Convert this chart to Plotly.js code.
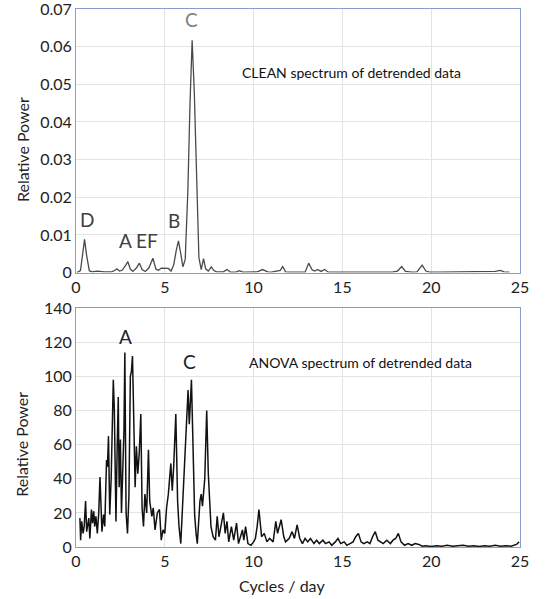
<!DOCTYPE html>
<html>
<head>
<meta charset="utf-8">
<script src="https://cdn.plot.ly/plotly-3.0.1.min.js"></script>
<style>html,body{margin:0;padding:0;background:#fff;}#chart{width:547px;height:599px;}</style>
</head>
<body>
<div id="chart"></div>
<script>
// CLEAN spectrum (top panel)
const cleanX = [0.05,0.25,0.35,0.48,0.6,0.75,0.9,1.2,1.6,2.0,2.2,2.3,2.45,2.6,2.8,2.92,3.05,3.2,3.4,3.57,3.72,3.9,4.1,4.33,4.5,4.65,4.8,5.0,5.2,5.35,5.5,5.65,5.77,5.9,6.02,6.15,6.3,6.42,6.54,6.66,6.8,6.92,7.05,7.18,7.3,7.45,7.62,7.75,7.9,8.1,8.3,8.5,8.7,9.0,9.2,9.4,9.8,10.2,10.5,10.8,11.0,11.3,11.5,11.64,11.8,12.1,12.6,12.9,13.1,13.3,13.45,13.6,13.8,14.0,14.2,14.6,15.2,15.8,16.0,16.2,17.0,17.8,18.1,18.34,18.55,18.9,19.2,19.49,19.7,19.9,20.5,21.3,21.5,21.7,22.5,23.2,23.6,23.9,24.1,24.4];
const cleanY = [0,0.0005,0.004,0.0088,0.0045,0.0005,0.0002,0.0004,0.0002,0.0002,0.0006,0.001,0.0004,0.0006,0.002,0.0029,0.001,0.0003,0.0012,0.0025,0.0008,0.0003,0.0012,0.0038,0.0009,0.0006,0.0012,0.0012,0.0011,0.0004,0.002,0.006,0.0084,0.005,0.0015,0.0035,0.022,0.045,0.0617,0.048,0.02,0.004,0.0008,0.0037,0.001,0.0004,0.0015,0.0006,0.0002,0.0002,0.0002,0.0008,0.0001,0.0001,0.0005,0.0001,0.0001,0.0002,0.0008,0.0002,0.0001,0.0004,0.0006,0.0016,0.0002,0.0001,0.0002,0.0001,0.0025,0.0007,0.0004,0.0008,0.0003,0.0008,0.0001,0.0001,0.0001,0.0001,0.0003,0.0001,0.0001,0.0001,0.0004,0.0016,0.0003,0.0001,0.0002,0.002,0.0004,0.0001,0.0001,0.0001,0.0003,0.0001,0.0001,0.0001,0.0003,0.0006,0.0002,0.0001];

// ANOVA spectrum (bottom panel)
const anovaX = [0.22,0.26,0.32,0.4,0.46,0.54,0.6,0.66,0.72,0.78,0.87,0.93,1.0,1.05,1.12,1.2,1.28,1.35,1.4,1.46,1.55,1.62,1.72,1.77,1.83,1.9,1.98,2.06,2.1,2.16,2.25,2.32,2.38,2.43,2.5,2.56,2.62,2.7,2.75,2.82,2.9,2.98,3.06,3.12,3.18,3.24,3.33,3.4,3.48,3.56,3.65,3.72,3.8,3.88,3.98,4.08,4.15,4.27,4.35,4.45,4.58,4.7,4.8,4.9,5.0,5.1,5.2,5.34,5.42,5.5,5.62,5.72,5.8,5.9,5.97,6.05,6.18,6.31,6.38,6.44,6.5,6.58,6.68,6.76,6.83,6.98,7.05,7.12,7.25,7.36,7.45,7.6,7.72,7.85,7.95,8.05,8.15,8.3,8.4,8.5,8.6,8.75,8.88,9.04,9.15,9.25,9.37,9.45,9.55,9.68,9.85,10.0,10.1,10.2,10.3,10.45,10.6,10.75,10.9,11.1,11.25,11.35,11.45,11.55,11.7,11.8,12.0,12.17,12.3,12.45,12.6,12.75,12.9,13.05,13.2,13.4,13.55,13.7,13.9,14.05,14.25,14.4,14.6,14.75,14.9,15.1,15.25,15.45,15.6,15.75,15.9,16.05,16.2,16.4,16.55,16.7,16.85,17.0,17.15,17.3,17.5,17.7,17.85,18.0,18.15,18.3,18.5,18.7,18.9,19.1,19.3,19.5,19.7,20.0,20.3,20.6,20.9,21.2,21.5,21.8,22.1,22.4,22.7,23.0,23.3,23.6,23.9,24.2,24.5,24.8,24.95];
const anovaY = [17,4,15,8,12,27,9,14,17,5,22,14,21,12,18,8,20,41,20,9,19,12,51,47,65,19,40,94,98,80,15,59,88,35,63,20,40,68,114,20,8,30,100,103,112,80,35,59,43,55,78,23,12,31,20,57,27,18,23,10,20,22,4,10,8,23,31,49,33,47,78,27,12,2,16,39,63,92,72,88,98,63,19,8,2,27,31,24,40,80,43,12,6,4,18,6,12,20,8,15,3,12,4,14,2,6,10,4,12,2,1,3,5,12,22,6,8,3,5,3,15,8,12,16,6,3,5,9,5,13,5,2,5,3,5,2,4,2,4,2,3,1,3,5,2,3,1,2,3,6,8,3,2,3,2,6,9,4,3,2,4,2,4,5,8,3,1,2,1,2,1.5,0.5,0.8,0.3,0.8,0.5,1,0.5,0.8,1,0.5,0.8,0.3,0.8,0.5,1,0.5,0.8,0.5,1.5,3];

const xTicks = [0,5,10,15,20,25];
const cleanTicks = [0,0.01,0.02,0.03,0.04,0.05,0.06,0.07];
const cleanTickText = ['0','0.01','0.02','0.03','0.04','0.05','0.06','0.07'];
const anovaTicks = [0,20,40,60,80,100,120,140];

const FONT = 'Lato, "Open Sans", sans-serif';
const borderColor = '#8b9ecb';
const gridColor = '#e3e3e3';

const traces = [
  {x: cleanX, y: cleanY, xaxis: 'x', yaxis: 'y', type: 'scatter', mode: 'lines',
   line: {color: '#4a4a4a', width: 1.3}, hoverinfo: 'skip'},
  {x: anovaX, y: anovaY, xaxis: 'x2', yaxis: 'y2', type: 'scatter', mode: 'lines',
   line: {color: '#111', width: 1.5}, hoverinfo: 'skip'}
];

const axX = {range: [0, 25], tickvals: xTicks, showgrid: true, gridcolor: gridColor, gridwidth: 1,
  showline: true, linecolor: borderColor, linewidth: 1, mirror: true, zeroline: false,
  ticks: '', ticklabeloverflow: 'allow', tickfont: {family: FONT, size: 16, color: '#222'}, fixedrange: true};

const layout = {
  width: 547, height: 599,
  margin: {l: 76, r: 27, t: 9, b: 52},
  paper_bgcolor: '#fff', plot_bgcolor: '#fff',
  showlegend: false,
  font: {family: FONT, color: '#222'},
  xaxis: Object.assign({}, axX, {anchor: 'y', domain: [0, 1]}),
  xaxis2: Object.assign({}, axX, {anchor: 'y2', domain: [0, 1]}),
  yaxis: {domain: [0.5101, 1], anchor: 'x', range: [0, 0.07], tickvals: cleanTicks,
    ticktext: cleanTickText, ticklabeloverflow: 'allow',
    showgrid: true, gridcolor: gridColor, showline: true, linecolor: borderColor, mirror: true,
    zeroline: false, ticks: '', tickfont: {family: FONT, size: 16, color: '#222'}, fixedrange: true},
  yaxis2: {domain: [0, 0.4438], anchor: 'x2', range: [0, 140], tickvals: anovaTicks,
    ticklabeloverflow: 'allow',
    showgrid: true, gridcolor: gridColor, showline: true, linecolor: borderColor, mirror: true,
    zeroline: false, ticks: '', tickfont: {family: FONT, size: 16, color: '#222'}, fixedrange: true},
  annotations: [
    {xref: 'paper', yref: 'paper', x: -0.1216, y: 0.7378, xanchor: 'center', yanchor: 'middle',
     text: 'Relative Power', textangle: -90,
     showarrow: false, font: {family: FONT, size: 16, color: '#222'}},
    {xref: 'paper', yref: 'paper', x: -0.1216, y: 0.19, xanchor: 'center', yanchor: 'middle',
     text: 'Relative Power', textangle: -90,
     showarrow: false, font: {family: FONT, size: 16, color: '#222'}},
    {xref: 'paper', yref: 'paper', x: 0.465, y: -0.0715, xanchor: 'center', yanchor: 'middle',
     text: 'Cycles / day',
     showarrow: false, font: {family: FONT, size: 16, color: '#222'}},
    {xref: 'x', yref: 'y', x: 15.54, y: 0.0531, text: 'CLEAN spectrum of detrended data',
     showarrow: false, font: {family: FONT, size: 14, color: '#111'}},
    {xref: 'x2', yref: 'y2', x: 16.0, y: 108.3, text: 'ANOVA spectrum of detrended data',
     showarrow: false, font: {family: FONT, size: 14, color: '#111'}},
    {xref: 'x', yref: 'y', x: 6.48, y: 0.0672, text: 'C', showarrow: false,
     font: {family: FONT, size: 19, color: '#808080'}},
    {xref: 'x', yref: 'y', x: 0.64, y: 0.0140, text: 'D', showarrow: false,
     font: {family: FONT, size: 19, color: '#404040'}},
    {xref: 'x', yref: 'y', x: 2.8, y: 0.0084, text: 'A', showarrow: false,
     font: {family: FONT, size: 19, color: '#404040'}},
    {xref: 'x', yref: 'y', x: 4.01, y: 0.0084, text: 'EF', showarrow: false,
     font: {family: FONT, size: 19, color: '#404040'}},
    {xref: 'x', yref: 'y', x: 5.54, y: 0.0137, text: 'B', showarrow: false,
     font: {family: FONT, size: 19, color: '#404040'}},
    {xref: 'x2', yref: 'y2', x: 2.77, y: 123.3, text: 'A', showarrow: false,
     font: {family: FONT, size: 19, color: '#222'}},
    {xref: 'x2', yref: 'y2', x: 6.4, y: 108.5, text: 'C', showarrow: false,
     font: {family: FONT, size: 19, color: '#222'}}
  ]
};

Plotly.newPlot('chart', traces, layout, {displayModeBar: false, staticPlot: true});
</script>
</body>
</html>
